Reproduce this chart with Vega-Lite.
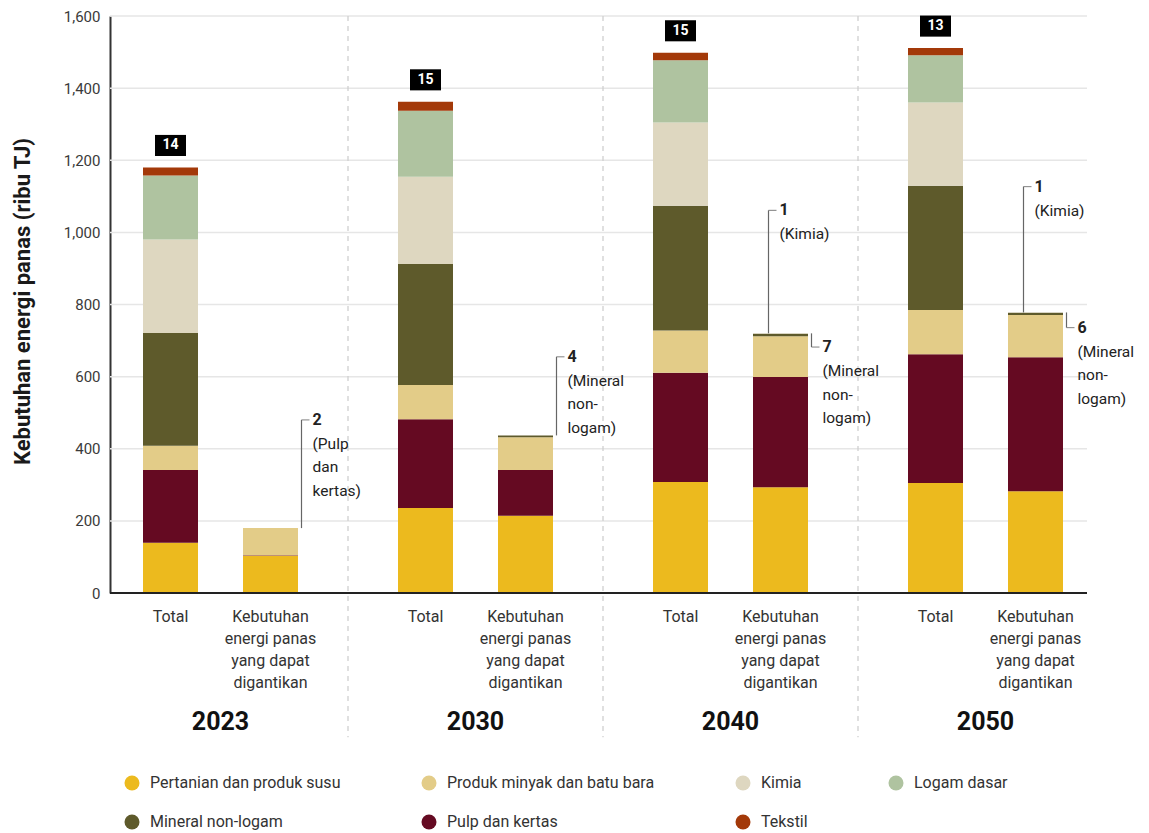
{
  "$schema": "https://vega.github.io/schema/vega-lite/v6.json",
  "width": 977,
  "height": 577,
  "autosize": {"type": "none"},
  "padding": {"left": 110, "top": 16, "right": 62, "bottom": 240},
  "background": "white",
  "config": {
    "font": "Roboto",
    "view": {"stroke": null},
    "axisY": {
      "labelExpr": "format(datum.value, ',')",
      "grid": false,
      "labelFontSize": 15,
      "labelColor": "#3a3a3a",
      "labelPadding": 10,
      "ticks": false,
      "domain": true,
      "domainColor": "#333333",
      "domainWidth": 2
    }
  },
  "datasets": {
    "bars": [
      {"year": "2023", "type": "Total", "sector": "Pertanian dan produk susu", "value": 139},
      {"year": "2023", "type": "Total", "sector": "Pulp dan kertas", "value": 202},
      {"year": "2023", "type": "Total", "sector": "Produk minyak dan batu bara", "value": 67},
      {"year": "2023", "type": "Total", "sector": "Mineral non-logam", "value": 313},
      {"year": "2023", "type": "Total", "sector": "Kimia", "value": 259},
      {"year": "2023", "type": "Total", "sector": "Logam dasar", "value": 178},
      {"year": "2023", "type": "Total", "sector": "Tekstil", "value": 22},
      {"year": "2023", "type": "Ganti", "sector": "Pertanian dan produk susu", "value": 103},
      {"year": "2023", "type": "Ganti", "sector": "Pulp dan kertas", "value": 2},
      {"year": "2023", "type": "Ganti", "sector": "Produk minyak dan batu bara", "value": 75},
      {"year": "2030", "type": "Total", "sector": "Pertanian dan produk susu", "value": 236},
      {"year": "2030", "type": "Total", "sector": "Pulp dan kertas", "value": 246},
      {"year": "2030", "type": "Total", "sector": "Produk minyak dan batu bara", "value": 95},
      {"year": "2030", "type": "Total", "sector": "Mineral non-logam", "value": 335},
      {"year": "2030", "type": "Total", "sector": "Kimia", "value": 242},
      {"year": "2030", "type": "Total", "sector": "Logam dasar", "value": 183},
      {"year": "2030", "type": "Total", "sector": "Tekstil", "value": 25},
      {"year": "2030", "type": "Ganti", "sector": "Pertanian dan produk susu", "value": 214},
      {"year": "2030", "type": "Ganti", "sector": "Pulp dan kertas", "value": 127},
      {"year": "2030", "type": "Ganti", "sector": "Produk minyak dan batu bara", "value": 91},
      {"year": "2030", "type": "Ganti", "sector": "Mineral non-logam", "value": 5},
      {"year": "2040", "type": "Total", "sector": "Pertanian dan produk susu", "value": 308},
      {"year": "2040", "type": "Total", "sector": "Pulp dan kertas", "value": 303},
      {"year": "2040", "type": "Total", "sector": "Produk minyak dan batu bara", "value": 117},
      {"year": "2040", "type": "Total", "sector": "Mineral non-logam", "value": 346},
      {"year": "2040", "type": "Total", "sector": "Kimia", "value": 231},
      {"year": "2040", "type": "Total", "sector": "Logam dasar", "value": 172},
      {"year": "2040", "type": "Total", "sector": "Tekstil", "value": 21},
      {"year": "2040", "type": "Ganti", "sector": "Pertanian dan produk susu", "value": 293},
      {"year": "2040", "type": "Ganti", "sector": "Pulp dan kertas", "value": 306},
      {"year": "2040", "type": "Ganti", "sector": "Produk minyak dan batu bara", "value": 113},
      {"year": "2040", "type": "Ganti", "sector": "Mineral non-logam", "value": 7},
      {"year": "2040", "type": "Ganti", "sector": "Kimia", "value": 1},
      {"year": "2050", "type": "Total", "sector": "Pertanian dan produk susu", "value": 305},
      {"year": "2050", "type": "Total", "sector": "Pulp dan kertas", "value": 357},
      {"year": "2050", "type": "Total", "sector": "Produk minyak dan batu bara", "value": 123},
      {"year": "2050", "type": "Total", "sector": "Mineral non-logam", "value": 344},
      {"year": "2050", "type": "Total", "sector": "Kimia", "value": 231},
      {"year": "2050", "type": "Total", "sector": "Logam dasar", "value": 131},
      {"year": "2050", "type": "Total", "sector": "Tekstil", "value": 20},
      {"year": "2050", "type": "Ganti", "sector": "Pertanian dan produk susu", "value": 282},
      {"year": "2050", "type": "Ganti", "sector": "Pulp dan kertas", "value": 372},
      {"year": "2050", "type": "Ganti", "sector": "Produk minyak dan batu bara", "value": 117},
      {"year": "2050", "type": "Ganti", "sector": "Mineral non-logam", "value": 6},
      {"year": "2050", "type": "Ganti", "sector": "Kimia", "value": 1}
    ],
    "cats": [
      {"year": "2023", "type": "Total", "label": "Total"},
      {"year": "2023", "type": "Ganti", "label": "Kebutuhan\nenergi panas\nyang dapat\ndigantikan"},
      {"year": "2030", "type": "Total", "label": "Total"},
      {"year": "2030", "type": "Ganti", "label": "Kebutuhan\nenergi panas\nyang dapat\ndigantikan"},
      {"year": "2040", "type": "Total", "label": "Total"},
      {"year": "2040", "type": "Ganti", "label": "Kebutuhan\nenergi panas\nyang dapat\ndigantikan"},
      {"year": "2050", "type": "Total", "label": "Total"},
      {"year": "2050", "type": "Ganti", "label": "Kebutuhan\nenergi panas\nyang dapat\ndigantikan"}
    ],
    "boxes": [
      {"year": "2023", "top": 1180, "label": "14"},
      {"year": "2030", "top": 1362, "label": "15"},
      {"year": "2040", "top": 1498, "label": "15"},
      {"year": "2050", "top": 1511, "label": "13"}
    ],
    "seps": [
      {"year": "2030"},
      {"year": "2040"},
      {"year": "2050"}
    ],
    "grid": [
      {"g": 200}, {"g": 400}, {"g": 600}, {"g": 800},
      {"g": 1000}, {"g": 1200}, {"g": 1400}, {"g": 1600}
    ],
    "annA": [
      {"year": "2023", "base": 180, "at": 480, "num": "2", "desc": "(Pulp\ndan\nkertas)"},
      {"year": "2030", "base": 437, "at": 655, "num": "4", "desc": "(Mineral\nnon-\nlogam)"},
      {"year": "2040", "base": 720, "at": 682, "num": "7", "desc": "(Mineral\nnon-\nlogam)"},
      {"year": "2050", "base": 778, "at": 736, "num": "6", "desc": "(Mineral\nnon-\nlogam)"}
    ],
    "annB": [
      {"year": "2040", "base": 720, "at": 1061, "num": "1", "desc": "(Kimia)"},
      {"year": "2050", "base": 778, "at": 1127, "num": "1", "desc": "(Kimia)"}
    ]
  },
  "encoding": {
    "x": {
      "field": "year",
      "type": "nominal",
      "scale": {"domain": ["2023", "2030", "2040", "2050"], "range": [-17, 1003], "paddingInner": 0, "paddingOuter": 0},
      "axis": {
        "title": null,
        "domain": false,
        "ticks": false,
        "grid": false,
        "labelAngle": 0,
        "labelPadding": 116,
        "labelFontSize": 25,
        "labelFontWeight": "bold",
        "labelColor": "#111111"
      }
    }
  },
  "layer": [
    {
      "data": {"name": "grid"},
      "mark": {"type": "rule", "color": "#e6e6e6", "strokeWidth": 1.5},
      "encoding": {
        "x": null,
        "y": {"field": "g", "type": "quantitative", "axis": {"labelExpr": "format(datum.value, ',')", "grid": false, "values": [0, 200, 400, 600, 800, 1000, 1200, 1400, 1600], "title": "Kebutuhan energi panas (ribu TJ)"}}
      }
    },
    {
      "data": {"name": "seps"},
      "mark": {"type": "rule", "strokeDash": [5, 5], "color": "#d0d0d0", "strokeWidth": 1.3, "clip": false},
      "encoding": {
        "x": {"field": "year", "type": "nominal", "bandPosition": 0},
        "y": {"datum": 1600, "type": "quantitative", "axis": {"labelExpr": "format(datum.value, ',')", "grid": false, "values": [0, 200, 400, 600, 800, 1000, 1200, 1400, 1600], "title": "Kebutuhan energi panas (ribu TJ)"}},
        "y2": {"datum": -400}
      }
    },
    {
      "data": {"name": "bars"},
      "transform": [
        {"calculate": "indexof(['Pertanian dan produk susu','Pulp dan kertas','Produk minyak dan batu bara','Mineral non-logam','Kimia','Logam dasar','Tekstil'], datum.sector)", "as": "ord"}
      ],
      "mark": {"type": "bar"},
      "encoding": {
        "xOffset": {"field": "type", "type": "nominal", "scale": {"domain": ["Total", "Ganti"], "paddingInner": 0.45, "paddingOuter": 0.5}},
        "y": {
          "field": "value",
          "type": "quantitative",
          "stack": "zero",
          "scale": {"domain": [0, 1600], "nice": false},
          "axis": {
            "title": "Kebutuhan energi panas (ribu TJ)",
            "values": [0, 200, 400, 600, 800, 1000, 1200, 1400, 1600],
            "labelExpr": "format(datum.value, ',')",
            "grid": false,
            "titleFontSize": 22,
            "titleFontWeight": "bold",
            "titleColor": "#1a1a1a",
            "titleAngle": -90,
            "titleAlign": "center",
            "titleBaseline": "middle",
            "titleX": -88,
            "titleY": 285
          }
        },
        "color": {
          "field": "sector",
          "type": "nominal",
          "scale": {
            "domain": ["Pertanian dan produk susu", "Produk minyak dan batu bara", "Kimia", "Logam dasar", "Mineral non-logam", "Pulp dan kertas", "Tekstil"],
            "range": ["#ECBA1E", "#E3CC88", "#DED7C0", "#AFC3A0", "#5E5A2B", "#650A22", "#A33909"]
          },
          "legend": {
            "title": null,
            "orient": "none",
            "legendX": 14,
            "legendY": 759,
            "direction": "horizontal",
            "columns": 4,
            "symbolType": "circle",
            "symbolSize": 225,
            "symbolStrokeWidth": 0,
            "labelFontSize": 16,
            "labelColor": "#333333",
            "labelOffset": 10,
            "columnPadding": 80,
            "rowPadding": 23,
            "labelLimit": 400
          }
        },
        "order": {"field": "ord", "type": "quantitative", "sort": "ascending"}
      }
    },
    {
      "data": {"values": [{}]},
      "mark": {"type": "rule", "color": "#222222", "strokeWidth": 2.2},
      "encoding": {
        "x": null,
        "y": {"datum": 0, "type": "quantitative", "axis": {"labelExpr": "format(datum.value, ',')", "grid": false, "values": [0, 200, 400, 600, 800, 1000, 1200, 1400, 1600], "title": "Kebutuhan energi panas (ribu TJ)"}}
      }
    },
    {
      "data": {"name": "cats"},
      "mark": {"type": "text", "baseline": "top", "align": "center", "dy": 16, "lineBreak": "\n", "lineHeight": 22, "fontSize": 16, "color": "#333333"},
      "encoding": {
        "xOffset": {"field": "type", "type": "nominal"},
        "y": {"datum": 0, "type": "quantitative", "axis": {"labelExpr": "format(datum.value, ',')", "grid": false, "values": [0, 200, 400, 600, 800, 1000, 1200, 1400, 1600], "title": "Kebutuhan energi panas (ribu TJ)"}},
        "text": {"field": "label"}
      }
    },
    {
      "data": {"name": "boxes"},
      "mark": {"type": "point", "shape": "M-1,-0.68L1,-0.68L1,0.68L-1,0.68Z", "size": 961, "filled": true, "color": "#000000", "opacity": 1, "xOffset": -50, "yOffset": -22},
      "encoding": {
        "y": {"field": "top", "type": "quantitative"}
      }
    },
    {
      "data": {"name": "boxes"},
      "mark": {"type": "text", "color": "#ffffff", "fontWeight": "bold", "fontSize": 14, "baseline": "middle", "align": "center", "xOffset": -50, "yOffset": -22},
      "encoding": {
        "y": {"field": "top", "type": "quantitative"},
        "text": {"field": "label"}
      }
    },
    {
      "data": {"name": "annA"},
      "mark": {"type": "rule", "color": "#666666", "strokeWidth": 1.2, "xOffset": 81},
      "encoding": {
        "y": {"field": "base", "type": "quantitative"},
        "y2": {"field": "at"}
      }
    },
    {
      "data": {"name": "annA"},
      "mark": {"type": "tick", "color": "#666666", "thickness": 1.2, "size": 8, "xOffset": 85},
      "encoding": {
        "y": {"field": "at", "type": "quantitative"}
      }
    },
    {
      "data": {"name": "annA"},
      "mark": {"type": "text", "align": "left", "baseline": "middle", "fontWeight": "bold", "fontSize": 16, "color": "#222222", "xOffset": 92},
      "encoding": {
        "y": {"field": "at", "type": "quantitative"},
        "text": {"field": "num"}
      }
    },
    {
      "data": {"name": "annA"},
      "mark": {"type": "text", "align": "left", "baseline": "top", "fontSize": 15.5, "color": "#222222", "xOffset": 92, "dy": 17, "lineBreak": "\n", "lineHeight": 23.5},
      "encoding": {
        "y": {"field": "at", "type": "quantitative"},
        "text": {"field": "desc"}
      }
    },
    {
      "data": {"name": "annB"},
      "mark": {"type": "rule", "color": "#666666", "strokeWidth": 1.2, "xOffset": 38},
      "encoding": {
        "y": {"field": "base", "type": "quantitative"},
        "y2": {"field": "at"}
      }
    },
    {
      "data": {"name": "annB"},
      "mark": {"type": "tick", "color": "#666666", "thickness": 1.2, "size": 8, "xOffset": 42},
      "encoding": {
        "y": {"field": "at", "type": "quantitative"}
      }
    },
    {
      "data": {"name": "annB"},
      "mark": {"type": "text", "align": "left", "baseline": "middle", "fontWeight": "bold", "fontSize": 16, "color": "#222222", "xOffset": 49},
      "encoding": {
        "y": {"field": "at", "type": "quantitative"},
        "text": {"field": "num"}
      }
    },
    {
      "data": {"name": "annB"},
      "mark": {"type": "text", "align": "left", "baseline": "top", "fontSize": 15.5, "color": "#222222", "xOffset": 49, "dy": 17, "lineBreak": "\n", "lineHeight": 23.5},
      "encoding": {
        "y": {"field": "at", "type": "quantitative"},
        "text": {"field": "desc"}
      }
    }
  ]
}
